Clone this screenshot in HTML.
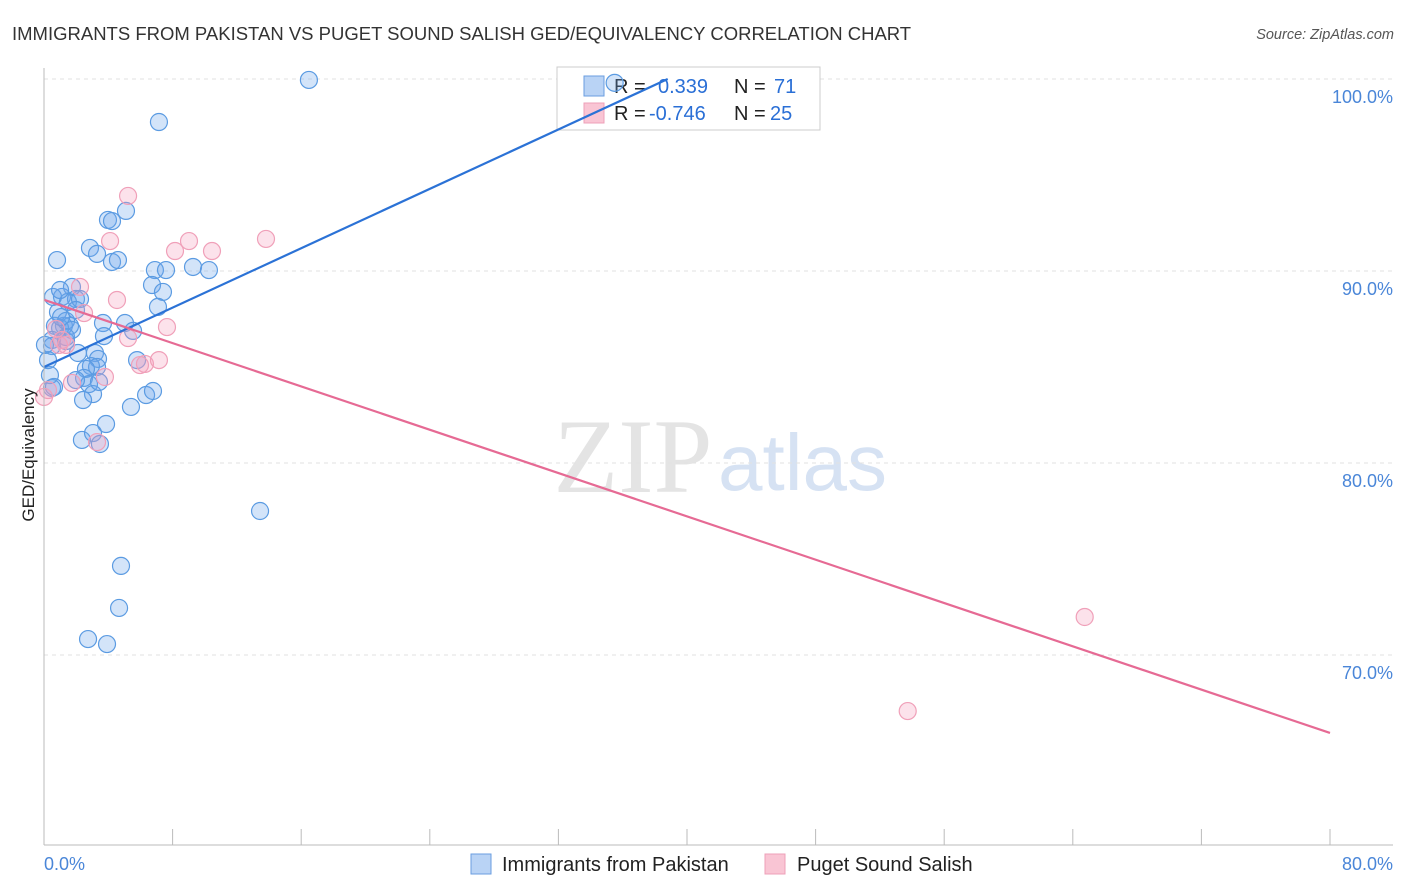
<!DOCTYPE html>
<html><head><meta charset="utf-8"><style>
body{margin:0;background:#fff;font-family:"Liberation Sans",sans-serif}
svg{display:block}
</style></head><body>
<svg id="c" width="1406" height="892">
<text x="12" y="40" font-size="18.5" fill="#333">IMMIGRANTS FROM PAKISTAN VS PUGET SOUND SALISH GED/EQUIVALENCY CORRELATION CHART</text>
<text x="1394" y="39" font-size="14.5" fill="#555" text-anchor="end" font-style="italic">Source: ZipAtlas.com</text>
<text x="633" y="492" font-size="106" fill="#e4e4e4" text-anchor="middle" font-family="Liberation Serif,serif">ZIP</text>
<text x="718" y="490" font-size="80" fill="#d6e2f3">atlas</text>
<g id="grid"></g>
<g>
<rect x="557" y="67" width="263" height="63" fill="#fff" stroke="#ccc"/>
<rect x="584" y="76" width="20" height="20" fill="#b9d3f5" stroke="#6a9ee0"/>
<rect x="584" y="103" width="20" height="20" fill="#f9c5d4" stroke="#eea0b8"/>
<text x="614" y="93" font-size="20" fill="#222">R = <tspan fill="#2a6fd6" x="658">0.339</tspan><tspan x="734" fill="#222">N = </tspan><tspan fill="#2a6fd6" x="774">71</tspan></text>
<text x="614" y="120" font-size="20" fill="#222">R = <tspan fill="#2a6fd6" x="649">-0.746</tspan><tspan x="734" fill="#222">N = </tspan><tspan fill="#2a6fd6" x="770">25</tspan></text>
</g>
<g id="pts"></g><g id="lines"></g>
<line x1="44" y1="68" x2="44" y2="845" stroke="#bbb"/>
<line x1="44" y1="845" x2="1393" y2="845" stroke="#bbb"/>
<text transform="translate(34,455) rotate(-90)" font-size="17" fill="#222" text-anchor="middle">GED/Equivalency</text>
<text x="44" y="870" font-size="18" fill="#4a86d8">0.0%</text>
<text x="1393" y="870" font-size="18" fill="#4a86d8" text-anchor="end">80.0%</text>
<g>
<rect x="471" y="854" width="20" height="20" fill="#b9d3f5" stroke="#6a9ee0"/>
<text x="502" y="871" font-size="20" fill="#222">Immigrants from Pakistan</text>
<rect x="765" y="854" width="20" height="20" fill="#f9c5d4" stroke="#eea0b8"/>
<text x="797" y="871" font-size="20" fill="#222">Puget Sound Salish</text>
</g>
</svg>
<script>
const yTicks=[100,90,80,70];
const xTickVals=[0,8,16,24,32,40,48,56,64,72,80];
const blueX=[16.48,7.15,5.10,3.98,4.23,2.86,3.30,0.81,4.23,4.60,6.90,7.59,9.27,10.26,6.72,7.40,7.09,1.74,1.12,1.99,1.49,0.56,1.24,1.62,1.00,0.68,0.50,0.50,1.37,3.67,5.04,5.54,3.73,2.11,3.17,3.36,5.79,2.92,3.30,2.61,2.49,2.80,3.05,2.43,6.35,6.78,5.41,0.50,0.37,2.36,3.86,3.05,3.48,13.44,4.79,4.67,2.74,3.92,1.99,0.87,2.24,1.37,3.42,0.25,0.06,1.06,1.37,1.74,1.99,1.00,0.62,35.5];
const blueY=[99.95,97.76,93.13,92.66,92.60,91.20,90.89,90.57,90.47,90.57,90.05,90.05,90.21,90.05,89.27,88.91,88.13,89.17,88.65,88.54,88.39,88.65,87.14,87.14,87.03,87.14,86.41,86.09,86.35,87.29,87.29,86.88,86.61,85.73,85.73,85.42,85.36,85.05,85.00,84.90,84.43,84.11,83.59,83.28,83.54,83.75,82.92,83.91,84.58,81.20,82.03,81.56,80.99,77.50,74.64,72.45,70.83,70.57,84.32,87.86,88.54,87.40,84.22,85.36,86.15,87.60,86.56,86.93,87.97,89.01,83.96,99.8];
const pinkX=[5.23,4.11,9.02,8.15,10.45,13.81,2.24,4.54,2.49,7.65,5.23,0.93,6.28,7.15,1.12,3.79,3.30,1.74,0.25,0.75,0.00,53.73,64.74,5.97,1.37];
const pinkY=[93.91,91.56,91.56,91.04,91.04,91.67,89.17,88.49,87.81,87.08,86.51,86.15,85.16,85.36,86.41,84.48,81.09,84.17,83.80,86.98,83.44,67.08,71.98,85.10,86.15];
const blueTrend=[[0,85.0],[38.8,100]];
const pinkTrend=[[0,88.5],[80,65.94]];
const sx=v=>44+v*1286/80, sy=v=>79+(100-v)*19.2;
const NS='http://www.w3.org/2000/svg';
function mk(t,a,p){const e=document.createElementNS(NS,t);for(const k in a)e.setAttribute(k,a[k]);document.getElementById(p).appendChild(e);return e;}
yTicks.forEach(t=>{
 const l=mk('line',{x1:44,x2:1393,y1:sy(t),y2:sy(t),stroke:'#e2e2e2','stroke-dasharray':'4,4'},'grid');
 
 
 const tx=mk('text',{x:1393,y:sy(t)+24,'font-size':18,fill:'#4a86d8','text-anchor':'end'},'grid');
 tx.textContent=t.toFixed(1)+'%';
 
 
});
xTickVals.forEach(t=>{
 const l=mk('line',{x1:sx(t),x2:sx(t),y1:829,y2:845,stroke:'#bbb'},'grid');
 
 
});
blueX.forEach((x,i)=>{
 const c=mk('circle',{cx:sx(x),cy:sy(blueY[i]),r:8.5,fill:'rgba(110,165,235,0.3)',stroke:'#5b9be2','stroke-width':1.2},'pts');
 
 
});
pinkX.forEach((x,i)=>{
 const c=mk('circle',{cx:sx(x),cy:sy(pinkY[i]),r:8.5,fill:'rgba(245,160,190,0.3)',stroke:'#f0a0b9','stroke-width':1.2},'pts');
 
 
});
const bl=mk('line',{x1:sx(blueTrend[0][0]),y1:sy(blueTrend[0][1]),x2:sx(blueTrend[1][0]),y2:sy(blueTrend[1][1]),stroke:'#2b72d6','stroke-width':2.2},'lines');


const pl=mk('line',{x1:sx(pinkTrend[0][0]),y1:sy(pinkTrend[0][1]),x2:sx(pinkTrend[1][0]),y2:sy(pinkTrend[1][1]),stroke:'#e66a94','stroke-width':2.2},'lines');


</script>
</body></html>
